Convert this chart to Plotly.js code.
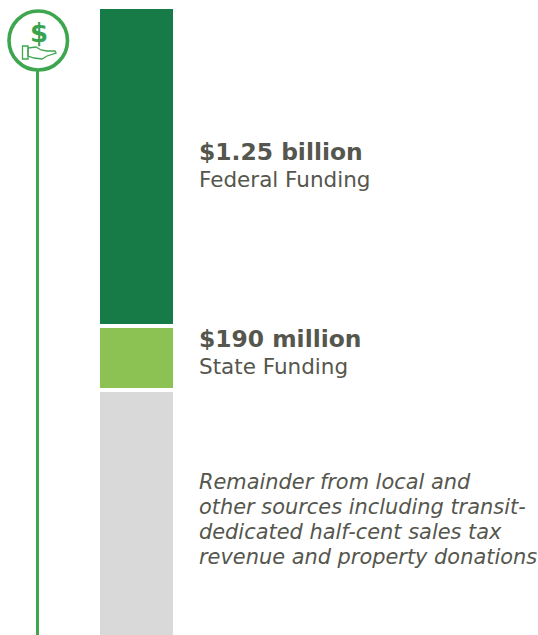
<!DOCTYPE html>
<html><head><meta charset="utf-8">
<script src="https://cdn.plot.ly/plotly-3.0.0.min.js"></script>
<style>html,body{margin:0;padding:0;background:#fff}</style></head>
<body><div id="chart" style="width:538px;height:635px"></div>
<script>
var categories = ['Federal Funding', 'State Funding', 'Other'];
var segmentValues = [319, 64, 247];
var colors = ['#177b47', '#8cc153', '#d9d9d9'];
var amountLabels = ['$1.25 billion', '$190 million'];
var sourceLabels = ['Federal Funding', 'State Funding'];
var noteLines = ['Remainder from local and', 'other sources including transit-', 'dedicated half-cent sales tax', 'revenue and property donations'];
var FONT = '"DejaVu Sans", sans-serif';
var TEXT = '#55564d';

var traces = categories.map(function (c, i) {
  return {type: 'bar', x: [136.5], y: [segmentValues[i]], width: [77], name: c,
    marker: {color: colors[i], line: {color: '#ffffff', width: 4}}, hoverinfo: 'name'};
});
function txt(t, x, y, size, extra) {
  return Object.assign({xref: 'x', yref: 'paper', x: x, y: 1 - (y / 635), text: t, showarrow: false,
    xanchor: 'left', yanchor: 'middle', align: 'left',
    font: {family: FONT, size: size, color: TEXT}}, extra || {});
}
var annotations = [
  txt('<b>' + amountLabels[0] + '</b>', 197, 152, 23.4),
  txt(sourceLabels[0], 197, 179, 21.5),
  txt('<b>' + amountLabels[1] + '</b>', 197, 339, 23.4),
  txt(sourceLabels[1], 197, 366, 21.5),
  txt('<b>$</b>', 38.5, 33, 26, {xanchor: 'center', font: {family: FONT, size: 26, color: '#3aa34f'}})
];
noteLines.forEach(function (l, i) {
  annotations.push(txt('<i>' + l + '</i>', 197, 482 + i * 25, 20.9));
});
var g = '#3fa650';
function pathOf(pts, close) {
  return pts.map(function (p, i) { return (i ? 'L' : 'M') + (p[0] / 538).toFixed(5) + ',' + (1 - p[1] / 635).toFixed(5); }).join(' ') + (close ? ' Z' : '');
}
var layout = {
  width: 538, height: 635, margin: {l: 0, r: 0, t: 0, b: 0}, barmode: 'stack', showlegend: false,
  paper_bgcolor: '#fff', plot_bgcolor: '#fff',
  xaxis: {range: [0, 538], visible: false, fixedrange: true},
  yaxis: {range: [628, -7], visible: false, fixedrange: true},
  annotations: annotations,
  shapes: [
    {type: 'line', xref: 'paper', yref: 'paper', x0: 37.5 / 538, x1: 37.5 / 538, y0: 0, y1: 1 - 70 / 635, line: {color: g, width: 3}},
    {type: 'circle', xref: 'paper', yref: 'paper', x0: 9 / 538, x1: 67.5 / 538, y0: 1 - 70 / 635, y1: 1 - 11 / 635, line: {color: g, width: 3.6}, fillcolor: '#fff'},
    {type: 'path', xref: 'paper', yref: 'paper', path: pathOf([[22.5, 46], [28, 46], [28, 59], [22.5, 59]], true), line: {color: g, width: 1.3}},
    {type: 'path', xref: 'paper', yref: 'paper', path: pathOf([[28, 48], [36, 47], [41, 50], [47, 51], [55, 51], [56, 53], [47, 56], [42, 59], [34, 58], [28, 56]], true), line: {color: g, width: 1.3}}
  ]
};
Plotly.newPlot('chart', traces, layout, {displayModeBar: false, staticPlot: true});
</script></body></html>
